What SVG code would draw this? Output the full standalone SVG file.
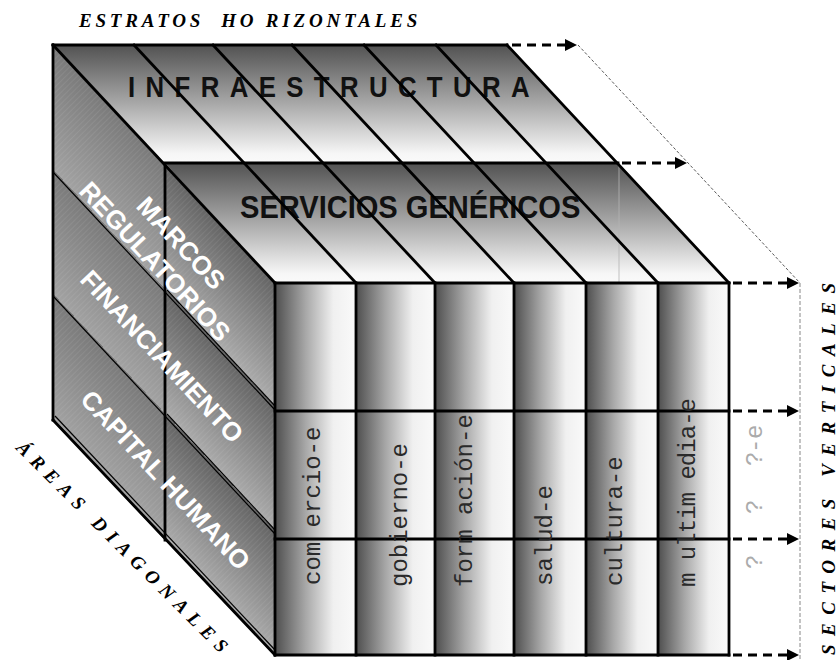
<svg xmlns="http://www.w3.org/2000/svg" width="839" height="660" viewBox="0 0 839 660">
<defs>
  <linearGradient id="gTop" x1="0" y1="0" x2="0" y2="1">
    <stop offset="0" stop-color="#525252"/>
    <stop offset="0.5" stop-color="#a9a9a9"/>
    <stop offset="0.92" stop-color="#f6f6f6"/>
    <stop offset="1" stop-color="#fafafa"/>
  </linearGradient>
  <linearGradient id="gFront" x1="0" y1="0" x2="1" y2="0">
    <stop offset="0" stop-color="#4e4e4e"/>
    <stop offset="0.38" stop-color="#a8a8a8"/>
    <stop offset="0.72" stop-color="#f0f0f0"/>
    <stop offset="1" stop-color="#fafafa"/>
  </linearGradient>
  <linearGradient id="gLeftBack" gradientUnits="userSpaceOnUse" x1="53" y1="45" x2="-9" y2="103" spreadMethod="repeat">
    <stop offset="0" stop-color="#7a7a7a"/>
    <stop offset="1" stop-color="#a2a2a2"/>
  </linearGradient>
  <linearGradient id="gLeftFront" gradientUnits="userSpaceOnUse" x1="53" y1="45" x2="-9" y2="103" spreadMethod="repeat">
    <stop offset="0" stop-color="#646464"/>
    <stop offset="1" stop-color="#ababab"/>
  </linearGradient>
  <pattern id="hatch" width="4" height="4" patternUnits="userSpaceOnUse" patternTransform="rotate(45)">
    <line x1="0" y1="0" x2="0" y2="4" stroke="#ffffff" stroke-opacity="0.14" stroke-width="1"/>
  </pattern>
  <marker id="arr" viewBox="0 0 12 12" refX="2" refY="6" markerWidth="12" markerHeight="12" markerUnits="userSpaceOnUse" orient="auto">
    <path d="M0,0 L12,6 L0,12 z" fill="#000"/>
  </marker>
</defs>
<style>
  .edge{stroke:#000;stroke-width:2.8;fill:none;stroke-linecap:square}
  .thin{stroke:#000;stroke-width:1.2;fill:none}
  .dash{stroke:#000;stroke-width:2.8;stroke-dasharray:9 6;fill:none;marker-end:url(#arr)}
  .guide{stroke:#444;stroke-width:0.9;stroke-dasharray:3 2;fill:none}
  .vguide{stroke:#888;stroke-width:1;stroke-dasharray:4 2;fill:none}
  .big{font-family:"Liberation Sans",Arial,sans-serif;font-weight:bold;fill:#111}
  .leftlbl{font-family:"Liberation Sans",Arial,sans-serif;font-weight:bold;font-size:26px;fill:#fff;text-anchor:middle}
  .col{font-family:"Liberation Mono","Courier New",monospace;font-size:24px;fill:#2a2a2a}
  .axis{font-family:"Liberation Serif","Times New Roman",serif;font-weight:700;font-style:italic;font-size:19px;fill:#000}
</style>

<g id="left-face">
  <polygon points="53,45 165,163 165,540 53,420" fill="url(#gLeftBack)"/>
  <polygon points="165,163 275,283 275,655 165,540" fill="url(#gLeftFront)"/>
  <polygon points="53,45 275,283 275,655 53,420" fill="url(#hatch)"/>
  <line class="thin" x1="53" y1="172" x2="275" y2="410"/>
  <line class="thin" x1="53" y1="296" x2="275" y2="534"/>
  <line class="thin" x1="167" y1="290" x2="275" y2="406" stroke-width="0.8"/>
  <line class="thin" x1="167" y1="414" x2="275" y2="530" stroke-width="0.8"/>
  <line class="edge" x1="53" y1="45" x2="53" y2="420"/>
  <line class="edge" x1="165" y1="163" x2="165" y2="540"/>
  <line class="edge" x1="53" y1="420" x2="275" y2="655"/>
  <line class="thin" x1="55" y1="416" x2="275" y2="650" stroke-width="0.9"/>
</g>

<g id="infraestructura">
  <polygon points="53,45 507,45 618,163 165,163" fill="url(#gTop)"/>
  <text class="big" font-size="30" transform="translate(128,97) scale(0.86,1)" textLength="467" lengthAdjust="spacing">INFRAESTRUCTURA</text>
</g>

<g id="servicios-genericos">
  <polygon points="165,163 618,163 729,283 275,283" fill="url(#gTop)"/>
  <line x1="619" y1="164" x2="619" y2="283" stroke="#b4b4b4" stroke-width="0.8"/>
  <text class="big" font-size="32" transform="translate(240,218) scale(0.91,1)" textLength="374" lengthAdjust="spacing">SERVICIOS GENÉRICOS</text>
</g>

<g id="sectores">
  <rect x="275" y="283" width="81" height="372" fill="url(#gFront)"/>
  <rect x="356" y="283" width="79" height="372" fill="url(#gFront)"/>
  <rect x="435" y="283" width="79" height="372" fill="url(#gFront)"/>
  <rect x="514" y="283" width="72" height="372" fill="url(#gFront)"/>
  <rect x="586" y="283" width="72" height="372" fill="url(#gFront)"/>
  <rect x="658" y="283" width="71" height="372" fill="url(#gFront)"/>
</g>

<g id="grid-lines">
  <line class="edge" x1="53" y1="45" x2="507" y2="45"/>
  <line class="edge" x1="165" y1="163" x2="618" y2="163"/>
  <line class="edge" x1="275" y1="283" x2="729" y2="283"/>
  <line class="edge" x1="275" y1="411" x2="729" y2="411"/>
  <line class="edge" x1="275" y1="539" x2="729" y2="539"/>
  <line class="edge" x1="275" y1="655" x2="729" y2="655"/>
  <line class="edge" x1="53" y1="45" x2="275" y2="283"/>
  <line class="edge" x1="134" y1="45" x2="356" y2="283"/>
  <line class="edge" x1="213" y1="45" x2="435" y2="283"/>
  <line class="edge" x1="292" y1="45" x2="514" y2="283"/>
  <line class="edge" x1="364" y1="45" x2="586" y2="283"/>
  <line class="edge" x1="436" y1="45" x2="658" y2="283"/>
  <line class="edge" x1="507" y1="45" x2="729" y2="283"/>
  <line class="edge" x1="275" y1="283" x2="275" y2="655"/>
  <line class="edge" x1="356" y1="283" x2="356" y2="655"/>
  <line class="edge" x1="435" y1="283" x2="435" y2="655"/>
  <line class="edge" x1="514" y1="283" x2="514" y2="655"/>
  <line class="edge" x1="586" y1="283" x2="586" y2="655"/>
  <line class="edge" x1="658" y1="283" x2="658" y2="655"/>
  <line class="edge" x1="729" y1="283" x2="729" y2="655"/>
</g>

<g id="connectors">
  <polyline class="guide" points="578,45 800,283"/>
  <line class="vguide" x1="800" y1="283" x2="800" y2="660"/>
  <line class="dash" x1="512" y1="45" x2="567" y2="45"/>
  <line class="dash" x1="622" y1="163" x2="677" y2="163"/>
  <line class="dash" x1="733" y1="283" x2="789" y2="283"/>
  <line class="dash" x1="733" y1="411" x2="789" y2="411"/>
  <line class="dash" x1="733" y1="539" x2="789" y2="539"/>
  <line class="dash" x1="733" y1="655" x2="789" y2="655"/>
</g>

<g id="areas-diagonales">
  <text class="leftlbl" transform="translate(181,243) rotate(47)" y="9">MARCOS</text>
  <text class="leftlbl" transform="translate(155,261.5) rotate(47)" y="9">REGULATORIOS</text>
  <text class="leftlbl" transform="translate(162,356.5) rotate(47)" y="9">FINANCIAMIENTO</text>
  <text class="leftlbl" transform="translate(165.5,480) rotate(47)" y="9">CAPITAL HUMANO</text>
</g>

<g id="sector-labels">
  <text class="col" transform="translate(320,585) rotate(-90)">com ercio-e</text>
  <text class="col" transform="translate(407,587) rotate(-90)">gobierno-e</text>
  <text class="col" transform="translate(472,587) rotate(-90)">form ación-e</text>
  <text class="col" transform="translate(552,586) rotate(-90)">salud-e</text>
  <text class="col" transform="translate(622,586) rotate(-90)">cultura-e</text>
  <text class="col" transform="translate(695,587) rotate(-90)" textLength="189" lengthAdjust="spacing">m ultim edia-e</text>
  <text class="col" style="fill:#ababab" transform="translate(762,569) rotate(-90)" x="0 14 55 69 103 116 130" xml:space="preserve">? ? ?-e</text>
</g>

<g id="axis-labels">
  <text class="axis" font-weight="700" font-style="italic" x="79" y="27" letter-spacing="3.8" xml:space="preserve">ESTRATOS  HO RIZONTALES</text>
  <text class="axis" font-weight="700" font-style="italic" transform="translate(122,547) rotate(45)" y="6" text-anchor="middle" textLength="290" lengthAdjust="spacing">ÁREAS DIAGONALES</text>
  <text class="axis" font-weight="700" font-style="italic" font-size="20" transform="translate(835,469) rotate(-90)" text-anchor="middle" textLength="372" lengthAdjust="spacing">SECTORES VERTICALES</text>
</g>
</svg>
